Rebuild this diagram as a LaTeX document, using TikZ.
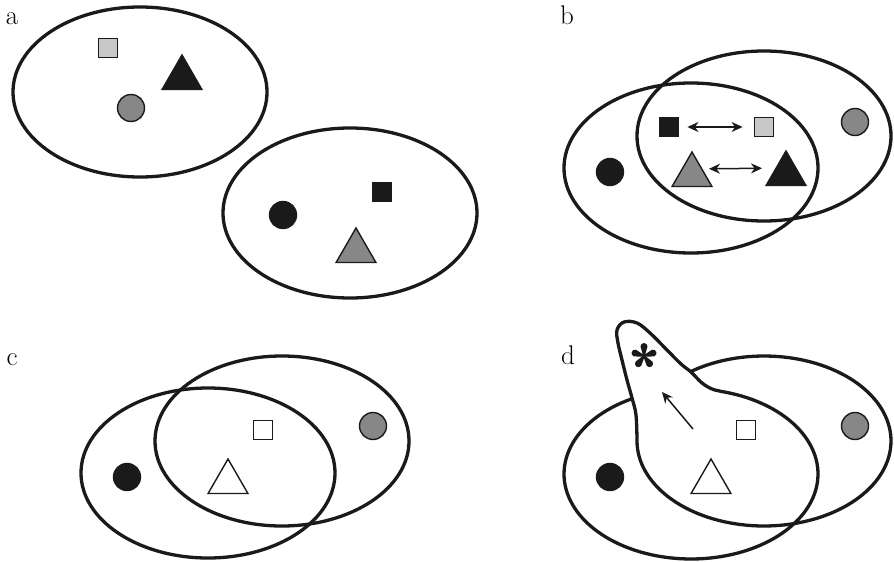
\documentclass[tikz,border=0pt]{standalone}
\usetikzlibrary{arrows.meta,shapes.geometric,calc}
\definecolor{blk}{HTML}{1A1A1A}
\definecolor{gry}{HTML}{878787}
\definecolor{lgry}{HTML}{C8C8C8}
\begin{document}
\begin{tikzpicture}[x=1pt,y=-1pt,
  setline/.style={line width=3.3pt, draw=blk},
  sq/.style={rectangle, draw=blk, line width=1.4pt, minimum size=19.5pt, inner sep=0pt},
  dot/.style={circle, draw=blk, line width=1.4pt, minimum size=27pt, inner sep=0pt},
  tri/.style={regular polygon, regular polygon sides=3, draw=blk, line width=1.4pt, minimum size=46pt, inner sep=0pt},
  lbl/.style={font=\fontsize{27}{32}\selectfont, anchor=base, inner sep=0pt},
  arr/.style={line width=1.5pt, draw=blk, {Stealth[length=11pt,width=10pt]}-{Stealth[length=11pt,width=10pt]}},
  arrone/.style={line width=1.5pt, draw=blk, -{Stealth[length=11pt,width=10pt]}},
]
\path[use as bounding box, fill=white] (0,0) rectangle (894,562);

% ---------- panel a ----------
\node[lbl] (la) at (12,24) {a};
\draw[setline] (140,92) ellipse [x radius=127, y radius=85];
\draw[setline] (350,213) ellipse [x radius=127, y radius=85];
\node[sq, fill=lgry] (a1s) at (108,48) {};
\node[tri, fill=blk] (a1t) at (182,78) {};
\node[dot, fill=gry] (a1c) at (131,108) {};
\node[dot, fill=blk] (a2c) at (283,215) {};
\node[sq, fill=blk] (a2s) at (382,192) {};
\node[tri, fill=gry] (a2t) at (356,251) {};

% ---------- panel b ----------
\node[lbl] (lb) at (567,24) {b};
\draw[setline] (691,168) ellipse [x radius=127, y radius=85];
\draw[setline] (764,136) ellipse [x radius=127, y radius=85];
\node[sq, fill=blk] (bs1) at (669,127) {};
\node[sq, fill=lgry] (bs2) at (764,127) {};
\node[tri, fill=gry] (bt1) at (692,175) {};
\node[tri, fill=blk] (bt2) at (786,174) {};
\node[dot, fill=blk] (bc1) at (610,172) {};
\node[dot, fill=gry] (bc2) at (855,122) {};
\draw[arr, shorten <=8pt, shorten >=11pt] (bs1) -- (bs2);
\draw[arr, shorten <=17pt, shorten >=24pt] ([yshift=6pt]bt1.center) -- ([yshift=6pt]bt2.center);

% ---------- panel c ----------
\node[lbl] (lc) at (12,365) {c};
\draw[setline] (208,473) ellipse [x radius=127, y radius=85];
\draw[setline] (282,441) ellipse [x radius=127, y radius=85];
\node[sq, fill=white] (cs) at (263,430) {};
\node[tri, fill=white] (ct) at (228,482) {};
\node[dot, fill=blk] (cc1) at (127,477) {};
\node[dot, fill=gry] (cc2) at (373,426) {};

% ---------- panel d ----------
\node[lbl] (ld) at (568,364) {d};
\draw[setline] plot[domain=118:437, samples=120, variable=\t] ({691+127*cos(\t)}, {474-85*sin(\t)});
\draw[setline] plot[domain=180:485, samples=120, variable=\t] ({764+127*cos(\t)}, {441-85*sin(\t)});
\draw[setline, line join=round] plot[smooth, tension=0.6] coordinates {
  (637,441) (636,415) (632,398) (627,380) (622,360) (618,343) (617,330)
  (624,322) (637,323) (650,333) (667,350) (681,364) (691,372) (702,383)
  (712,389) (720,391)};
\node[sq, fill=white] (ds) at (746,430) {};
\node[tri, fill=white] (dt) at (711,482) {};
\node[dot, fill=blk] (dc1) at (610,477) {};
\node[dot, fill=gry] (dc2) at (855,426) {};
\coordinate (dtail) at (693,429);
\coordinate (dhead) at (662,392);
\draw[arrone] (dtail) -- (dhead);
\coordinate (ast) at (644,356);
\fill[blk] (ast) circle [radius=2pt];
\foreach \a in {90,162,18,234,306}
  \fill[blk, shift={(ast)}, rotate=\a] (0,-0.8) -- (9.5,-3.5) arc [start angle=-90, end angle=90, radius=3.5] -- (0,0.8) -- cycle;
\end{tikzpicture}
\end{document}
